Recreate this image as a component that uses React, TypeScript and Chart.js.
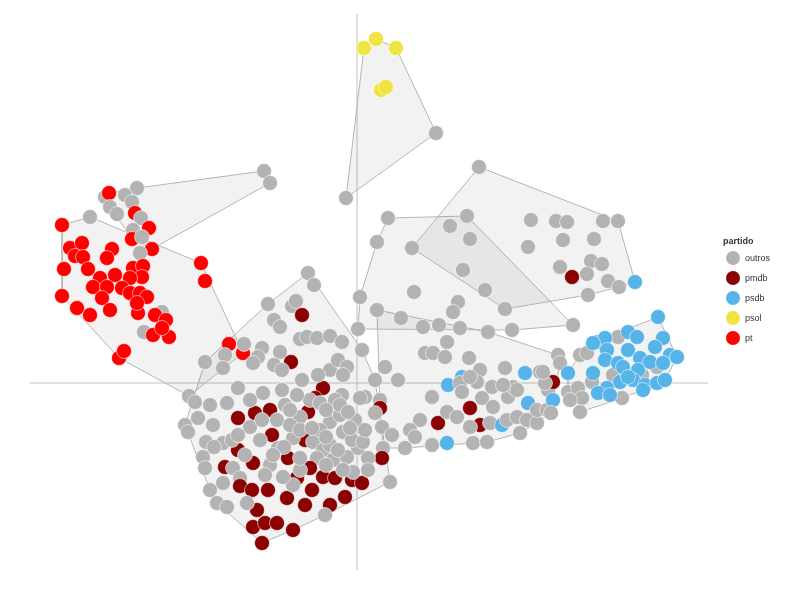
import React, { useEffect, useRef } from 'react';
import { Chart, registerables } from 'chart.js';

Chart.register(...registerables);

type P = [number, number, string];

const partidos = ['outros', 'pmdb', 'psdb', 'psol', 'pt'];
const codigos = ['o', 'm', 's', 'l', 't'];
const cores = ['#b3b3b3', '#8b0000', '#56b4e9', '#f0e442', '#ff0000'];

// group: psol cluster (top)
const grupoA: P[] = [
  [0.07, 3.35, 'l'], [0.19, 3.44, 'l'], [0.39, 3.35, 'l'], [0.24, 2.93, 'l'], [0.29, 2.96, 'l'],
  [0.79, 2.5, 'o'], [-0.11, 1.85, 'o'],
];

// group: upper-left mixed
const grupoB1: P[] = [
  [-2.52, 1.86, 'o'], [-2.48, 1.9, 't'], [-2.2, 1.95, 'o'], [-0.93, 2.12, 'o'], [-0.87, 2.0, 'o'],
  [-2.05, 1.34, 't'], [-2.32, 1.88, 'o'], [-2.25, 1.81, 'o'], [-2.47, 1.76, 'o'], [-2.4, 1.69, 'o'],
  [-2.22, 1.7, 't'], [-2.16, 1.65, 'o'], [-2.24, 1.53, 'o'], [-2.08, 1.55, 't'], [-2.25, 1.44, 't'],
  [-2.15, 1.46, 'o'],
];

// group: pt cluster (left)
const grupoB2: P[] = [
  [-2.67, 1.66, 'o'], [-2.17, 1.3, 'o'], [-2.13, 0.51, 'o'], [-1.95, 0.71, 'o'], [-1.68, -0.13, 'o'],
  [-2.95, 1.58, 't'], [-2.87, 1.35, 't'], [-2.75, 1.4, 't'], [-2.45, 1.34, 't'], [-2.5, 1.25, 't'],
  [-2.82, 1.27, 't'], [-2.74, 1.26, 't'], [-2.93, 1.14, 't'], [-2.69, 1.14, 't'], [-2.57, 1.05, 't'],
  [-2.42, 1.08, 't'], [-2.24, 1.15, 't'], [-2.14, 1.17, 't'], [-2.15, 1.06, 't'], [-2.27, 1.05, 't'],
  [-2.64, 0.96, 't'], [-2.5, 0.96, 't'], [-2.95, 0.87, 't'], [-2.8, 0.75, 't'], [-2.67, 0.68, 't'],
  [-2.55, 0.85, 't'], [-2.47, 0.73, 't'], [-2.35, 0.95, 't'], [-2.27, 0.9, 't'], [-2.19, 0.7, 't'],
  [-2.17, 0.9, 't'], [-2.1, 0.86, 't'], [-2.2, 0.8, 't'], [-2.02, 0.68, 't'], [-1.91, 0.63, 't'],
  [-2.04, 0.48, 't'], [-1.88, 0.46, 't'], [-1.95, 0.55, 't'], [-2.38, 0.25, 't'], [-2.33, 0.32, 't'],
  [-1.28, 0.39, 't'], [-1.14, 0.3, 't'], [-1.56, 1.2, 't'], [-1.52, 1.02, 't'],
];

// group: upper right
const grupoC: P[] = [
  [0.55, 1.35, 'o'], [1.22, 2.16, 'o'], [1.13, 1.44, 'o'], [1.06, 1.13, 'o'], [1.28, 0.93, 'o'],
  [1.48, 0.74, 'o'], [1.74, 1.63, 'o'], [1.99, 1.62, 'o'], [2.1, 1.61, 'o'], [2.46, 1.62, 'o'],
  [2.61, 1.62, 'o'], [1.71, 1.36, 'o'], [2.06, 1.43, 'o'], [2.37, 1.44, 'o'], [2.03, 1.16, 'o'],
  [2.34, 1.22, 'o'], [2.45, 1.19, 'o'], [2.15, 1.06, 'm'], [2.3, 1.09, 'o'], [2.51, 1.02, 'o'],
  [2.62, 0.96, 'o'], [2.31, 0.88, 'o'], [2.78, 1.01, 's'], [0.93, 1.57, 'o'],
];

// group: centre
const grupoD: P[] = [
  [0.31, 1.65, 'o'], [1.1, 1.67, 'o'], [0.2, 1.41, 'o'], [0.57, 0.91, 'o'], [0.03, 0.86, 'o'],
  [1.01, 0.81, 'o'], [0.96, 0.71, 'o'], [0.44, 0.65, 'o'], [0.66, 0.56, 'o'], [0.82, 0.58, 'o'],
  [1.03, 0.55, 'o'], [2.16, 0.58, 'o'], [0.01, 0.54, 'o'], [1.55, 0.53, 'o'],
];

// group: centre-low
const grupoG: P[] = [
  [0.2, 0.73, 'o'], [1.31, 0.51, 'o'], [2.01, 0.28, 'o'], [0.28, 0.16, 'o'], [0.41, 0.03, 'o'],
  [0.23, -0.17, 'o'], [0.23, -0.25, 'm'], [0.25, -0.44, 'o'], [0.35, -0.52, 'o'], [0.26, -0.65, 'o'],
  [0.75, -0.14, 'o'], [0.91, -0.02, 's'], [1.05, 0.06, 's'], [1.03, 0.0, 'o'], [1.05, -0.09, 'o'],
  [0.68, 0.3, 'o'], [0.76, 0.3, 'o'], [0.88, 0.26, 'o'], [0.9, 0.41, 'o'], [1.12, 0.25, 'o'],
  [1.23, 0.13, 'o'], [1.2, 0.01, 'o'], [1.13, 0.06, 'o'], [1.48, 0.15, 'o'], [1.35, -0.04, 'o'],
  [1.25, -0.15, 'o'], [1.36, -0.24, 'o'], [1.13, -0.25, 'm'], [0.81, -0.4, 'm'], [0.9, -0.29, 'o'],
  [1.0, -0.34, 'o'], [0.63, -0.37, 'o'], [0.53, -0.47, 'o'], [0.58, -0.54, 'o'], [0.75, -0.62, 'o'],
  [0.48, -0.65, 'o'], [0.9, -0.6, 's'], [1.16, -0.6, 'o'], [1.3, -0.59, 'o'], [1.23, -0.42, 'm'],
  [1.13, -0.44, 'o'], [1.33, -0.4, 'o'], [1.45, -0.42, 's'], [1.5, -0.37, 'o'], [1.6, -0.34, 'o'],
  [1.63, -0.5, 'o'], [1.7, -0.37, 'o'], [1.8, -0.4, 'o'], [1.51, -0.14, 'o'], [1.56, -0.04, 'o'],
  [1.68, 0.1, 's'], [1.83, 0.11, 'o'], [1.71, -0.2, 's'], [1.8, -0.27, 'o'], [1.9, -0.27, 'o'],
  [1.91, -0.07, 'o'], [1.96, 0.01, 'm'], [1.96, -0.17, 's'], [1.6, -0.07, 'o'], [1.46, -0.02, 'o'],
  [1.88, 0.0, 'o'], [1.86, 0.11, 'o'], [2.03, 0.2, 'o'], [1.94, -0.3, 'o'],
];

// group: psdb cluster (right)
const grupoF: P[] = [
  [2.61, 0.46, 'o'], [2.23, 0.28, 'o'], [2.3, 0.3, 'o'], [2.35, 0.01, 'o'], [2.56, 0.08, 'o'],
  [3.0, 0.16, 'o'], [2.11, -0.09, 'o'], [2.21, -0.05, 'o'], [2.25, -0.15, 'o'], [2.13, -0.17, 'o'],
  [2.65, -0.15, 'o'], [2.23, -0.29, 'o'], [2.85, 0.08, 'o'],
  [3.01, 0.66, 's'], [3.06, 0.45, 's'], [2.98, 0.36, 's'], [2.71, 0.51, 's'], [2.8, 0.46, 's'],
  [2.41, 0.41, 's'], [2.48, 0.45, 's'], [2.36, 0.4, 's'], [2.5, 0.33, 's'], [2.71, 0.33, 's'],
  [2.48, 0.23, 's'], [2.61, 0.2, 's'], [2.11, 0.1, 's'], [2.36, 0.1, 's'], [2.66, 0.16, 's'],
  [2.83, 0.25, 's'], [2.93, 0.21, 's'], [3.13, 0.28, 's'], [3.2, 0.26, 's'], [3.06, 0.2, 's'],
  [2.81, 0.13, 's'], [2.76, 0.03, 's'], [2.63, 0.01, 's'], [2.88, -0.02, 's'], [3.0, 0.0, 's'],
  [3.08, 0.03, 's'], [2.86, -0.07, 's'], [2.5, -0.05, 's'], [2.41, -0.1, 's'], [2.53, -0.12, 's'],
  [2.71, 0.06, 's'],
];

// group: lower left (pmdb + outros)
const grupoE: P[] = [
  [-0.49, 1.1, 'o'], [-0.43, 0.98, 'o'], [-0.89, 0.79, 'o'], [-0.65, 0.77, 'o'], [-0.61, 0.82, 'o'],
  [-0.55, 0.68, 'm'], [-0.83, 0.63, 'o'], [-0.77, 0.56, 'o'], [-0.57, 0.44, 'o'], [-0.5, 0.46, 'o'],
  [-0.4, 0.45, 'o'], [-0.27, 0.47, 'o'], [-0.15, 0.41, 'o'], [0.05, 0.33, 'o'], [-1.13, 0.39, 'o'],
  [-0.95, 0.35, 'o'], [-0.99, 0.26, 'o'], [-0.77, 0.31, 'o'], [-0.66, 0.21, 'm'], [-0.83, 0.18, 'o'],
  [-1.52, 0.21, 'o'], [-1.32, 0.28, 'o'], [-1.34, 0.15, 'o'], [-1.04, 0.2, 'o'], [-0.75, 0.13, 'o'],
  [-0.27, 0.13, 'o'], [-0.19, 0.23, 'o'], [-0.1, 0.16, 'o'], [-0.14, 0.08, 'o'], [-1.19, -0.05, 'o'],
  [-0.34, -0.05, 'm'], [0.18, 0.03, 'o'], [0.08, -0.14, 'o'], [0.18, -0.3, 'o'], [-1.62, -0.19, 'o'],
  [-1.47, -0.22, 'o'], [-1.3, -0.2, 'o'], [-1.19, -0.35, 'm'], [-1.72, -0.42, 'o'], [-1.59, -0.35, 'o'],
  [-1.44, -0.42, 'o'], [-1.69, -0.49, 'o'], [-1.51, -0.59, 'o'], [-1.34, -0.6, 'o'], [-1.19, -0.67, 'm'],
  [-1.25, -0.57, 'o'], [-1.07, -0.44, 'o'], [-0.87, -0.27, 'm'], [-1.02, -0.3, 'm'], [-0.85, -0.52, 'm'],
  [-1.04, -0.8, 'm'], [-1.32, -0.84, 'm'], [-1.54, -0.74, 'o'], [-1.52, -0.85, 'o'], [-1.24, -0.85, 'o'],
  [-1.17, -0.95, 'o'], [-1.17, -1.03, 'm'], [-1.05, -1.07, 'm'], [-1.47, -1.07, 'o'], [-1.34, -1.0, 'o'],
  [-1.4, -1.2, 'o'], [-1.3, -1.24, 'o'], [-1.0, -1.27, 'm'], [-1.04, -1.44, 'm'], [-0.92, -1.4, 'm'],
  [-0.8, -1.4, 'm'], [-1.1, -1.2, 'o'], [-0.95, -1.6, 'm'], [-0.89, -1.07, 'm'], [-0.7, -1.15, 'm'],
  [-0.87, -0.82, 'o'], [-0.97, -0.57, 'o'], [-0.8, -0.37, 'o'], [-0.94, -0.1, 'o'], [-0.42, -0.15, 'm'],
  [-0.49, -0.29, 'm'], [-0.47, -0.17, 'o'], [-0.37, -0.2, 'o'], [-0.15, -0.12, 'o'], [-0.57, -0.34, 'o'],
  [-0.27, -0.39, 'o'], [0.03, -0.15, 'o'], [0.25, -0.75, 'm'], [0.01, -0.65, 'o'], [-0.14, -0.49, 'o'],
  [-0.05, -0.57, 'o'], [-0.52, -0.57, 'm'], [-0.69, -0.75, 'm'], [-0.64, -0.55, 'o'], [-0.44, -0.59, 'o'],
  [-0.34, -0.67, 'o'], [-0.27, -0.62, 'o'], [-0.4, -0.75, 'o'], [-0.24, -0.77, 'o'], [-0.1, -0.74, 'o'],
  [-0.45, -1.07, 'm'], [-0.6, -0.95, 'm'],
  [-0.47, -0.85, 'm'], [-0.34, -0.94, 'm'], [-0.22, -0.95, 'm'], [-0.05, -0.97, 'm'], [0.05, -1.0, 'm'],
  [-0.04, -0.89, 'o'], [-0.14, -0.87, 'o'], [-0.52, -1.22, 'm'], [-0.27, -1.22, 'm'], [-0.12, -1.14, 'm'],
  [-0.32, -1.32, 'o'], [0.33, -0.99, 'o'], [-0.64, -1.47, 'm'], [-0.64, -1.02, 'o'], [-0.74, -0.94, 'o'],
  [0.11, -0.75, 'o'], [0.06, -0.59, 'o'], [-0.72, -0.22, 'o'], [-0.6, -0.12, 'o'], [-0.67, -0.42, 'o'],
  [-0.79, -0.65, 'o'], [-0.57, -0.87, 'o'], [-0.92, -0.92, 'o'], [-1.12, -0.72, 'o'], [-0.95, -0.37, 'o'],
  [-0.17, -0.32, 'o'], [-0.02, -0.37, 'o'], [-0.37, -0.47, 'o'], [-0.22, -0.17, 'o'], [-0.55, 0.03, 'o'],
  [-0.39, 0.08, 'o'],
  [-0.57, -0.47, 'o'], [-0.45, -0.45, 'o'], [-0.31, -0.54, 'o'], [-0.19, -0.67, 'o'], [-0.07, -0.45, 'o'],
  [-0.73, -0.64, 'o'], [-0.57, -0.75, 'o'], [-0.31, -0.82, 'o'], [-0.84, -0.72, 'o'], [-0.67, -0.27, 'o'],
  [-0.31, -0.27, 'o'], [-0.17, -0.22, 'o'], [-0.75, -0.07, 'o'], [-1.07, -0.17, 'o'], [-1.19, -0.52, 'o'],
  [-1.43, -0.64, 'o'], [-0.09, -0.29, 'o'], [0.08, -0.47, 'o'], [0.11, -0.87, 'o'],
];

const grupos: P[][] = [grupoA, grupoB1, grupoB2, grupoC, grupoD, grupoG, grupoF, grupoE];

// reference lines (the two axes through the origin)
const eixoHorizontal = [-3.27, 3.51];
const eixoVertical = [-1.87, 3.69];

// plotting window
const limitesX = [-3.57, 4.43];
const limitesY = [-2.17, 3.83];

function envoltoria(pts: P[]) {
  const p = pts.map((q) => ({ x: q[0], y: q[1] })).sort((a, b) => a.x - b.x || a.y - b.y);
  const cross = (o: any, a: any, b: any) => (a.x - o.x) * (b.y - o.y) - (a.y - o.y) * (b.x - o.x);
  const lower: any[] = [];
  for (const q of p) {
    while (lower.length >= 2 && cross(lower[lower.length - 2], lower[lower.length - 1], q) <= 0) lower.pop();
    lower.push(q);
  }
  const upper: any[] = [];
  for (let i = p.length - 1; i >= 0; i--) {
    const q = p[i];
    while (upper.length >= 2 && cross(upper[upper.length - 2], upper[upper.length - 1], q) <= 0) upper.pop();
    upper.push(q);
  }
  upper.pop();
  lower.pop();
  const h = lower.concat(upper);
  return h.concat([h[0]]);
}

function cor(code: string) {
  return cores[codigos.indexOf(code)];
}

export default function App() {
  const ref = useRef<HTMLCanvasElement>(null);

  useEffect(() => {
    document.body.style.margin = '0';
    const todos = grupos.flat();
    const pontos: any = {
      type: 'scatter',
      data: todos.map((p) => ({ x: p[0], y: p[1] })),
      backgroundColor: todos.map((p) => cor(p[2])),
      borderColor: 'rgba(255,255,255,0.55)',
      borderWidth: 1,
      pointRadius: 7.5,
      pointHoverRadius: 7.5,
      clip: false,
    };
    const cascas: any[] = grupos.map((g) => ({
      type: 'line',
      data: envoltoria(g),
      borderColor: '#b4b4b4',
      borderWidth: 1,
      backgroundColor: 'rgba(0,0,0,0.05)',
      fill: 'shape',
      pointRadius: 0,
      pointHoverRadius: 0,
      tension: 0,
      clip: false,
    }));
    const eixos: any[] = [
      {
        type: 'line',
        data: eixoHorizontal.map((x) => ({ x, y: 0 })),
        borderColor: '#c2c2c2',
        borderWidth: 1,
        pointRadius: 0,
        fill: false,
      },
      {
        type: 'line',
        data: eixoVertical.map((y) => ({ x: 0, y })),
        borderColor: '#c2c2c2',
        borderWidth: 1,
        pointRadius: 0,
        fill: false,
      },
    ];
    const chart = new Chart(ref.current as HTMLCanvasElement, {
      type: 'scatter',
      data: { datasets: [pontos, ...cascas, ...eixos] },
      options: {
        animation: false,
        responsive: false,
        maintainAspectRatio: false,
        layout: { padding: 0, autoPadding: false },
        scales: {
          x: { type: 'linear', min: limitesX[0], max: limitesX[1], display: false },
          y: { type: 'linear', min: limitesY[0], max: limitesY[1], display: false },
        },
        plugins: { legend: { display: false }, tooltip: { enabled: false } },
        events: [],
      },
    } as any);
    return () => chart.destroy();
  }, []);

  return (
    <div style={{ position: 'relative', width: 800, height: 600, background: '#fff' }}>
      <canvas ref={ref} width={800} height={600} style={{ display: 'block' }} />
      <div
        style={{
          position: 'absolute',
          left: 723,
          top: 235,
          fontFamily: '"Liberation Sans", Arial, sans-serif',
          fontSize: 9,
          color: '#333',
        }}
      >
        <div style={{ fontWeight: 'bold', height: 13, lineHeight: '12px' }}>partido</div>
        {partidos.map((nome, i) => (
          <div key={nome} style={{ display: 'flex', alignItems: 'center', height: 20, lineHeight: '20px' }}>
            <span
              style={{
                display: 'inline-block',
                width: 14,
                height: 14,
                borderRadius: '50%',
                background: cores[i],
                marginLeft: 3,
                marginRight: 5,
              }}
            />
            <span>{nome}</span>
          </div>
        ))}
      </div>
    </div>
  );
}
